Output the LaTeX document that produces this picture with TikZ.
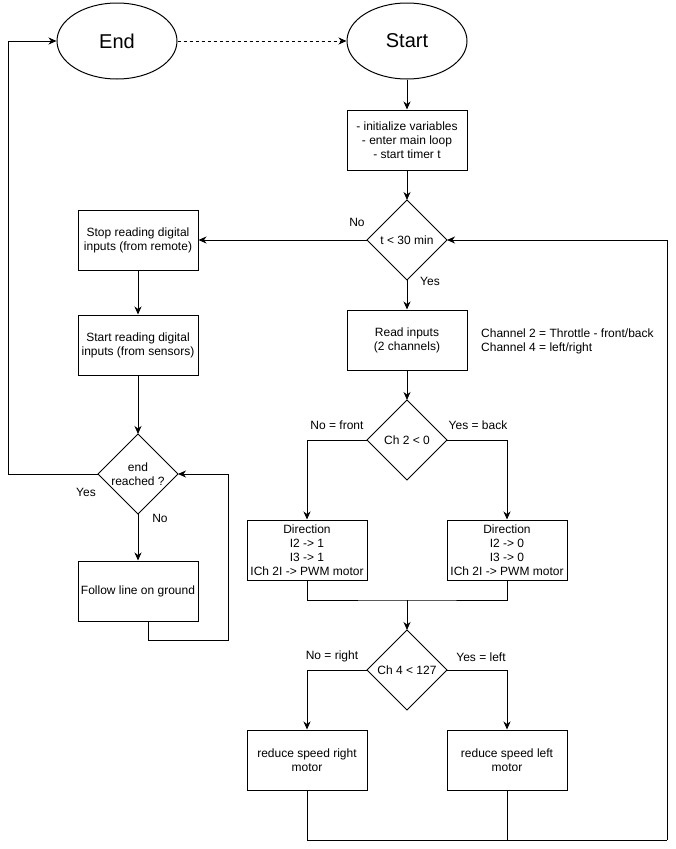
\documentclass[tikz,border=0pt]{standalone}
\usepackage{fontspec}
\setmainfont{Liberation Sans}
\usetikzlibrary{shapes.geometric,arrows.meta}

\tikzset{FCbox/.style={rectangle,draw,line width=1pt,minimum width=120pt,minimum height=60pt,inner sep=0pt,align=center,font=\fontsize{12}{14}\selectfont},
         FCdec/.style={diamond,draw,line width=1pt,minimum width=80pt,minimum height=80pt,inner sep=0pt,outer sep=0pt,aspect=1,align=center,font=\fontsize{12}{14}\selectfont},
         FCterm/.style={ellipse,draw,line width=1pt,minimum width=120pt,minimum height=76pt,font=\fontsize{20}{24}\selectfont},
         FClab/.style={inner sep=0pt,font=\fontsize{12}{14}\selectfont},
         FCarr/.style={line width=1pt,-{Stealth[length=8pt,width=7pt,inset=2.5pt]}},
         FCline/.style={line width=1pt}}

\begin{document}
\begin{tikzpicture}[x=1pt,y=-1pt]
    \useasboundingbox (0,0) rectangle (676,849);
    \node[FCterm] (end) at (117,41) {End};
    \node[FCterm] (start) at (407,41) {Start};
    \foreach \x/\y/\n/\l in {407/140/init/{- initialize variables\\- enter main loop\\- start timer t},
                             138/240/stop/{Stop reading digital\\inputs (from remote)},
                             138/345/sread/{Start reading digital\\inputs (from sensors)},
                             138/591/follow/{Follow line on ground},
                             407/340/read/{Read inputs\\(2 channels)},
                             307/550/dirl/{Direction\\I2 -> 1\\I3 -> 1\\ICh 2I -> PWM motor},
                             507/550/dirr/{Direction\\I2 -> 0\\I3 -> 0\\ICh 2I -> PWM motor},
                             307/760/redl/{reduce speed right\\motor},
                             507/760/redr/{reduce speed left\\motor}}
      {\node[FCbox] (\n) at (\x,\y) {\l};}
    \node[FCdec] (timer) at (407,240) {t < 30 min};
    \node[FCdec] (endq) at (138,474) {end\\reached ?};
    \node[FCdec] (ch2) at (407,440) {Ch 2 < 0};
    \node[FCdec] (ch4) at (407,670) {Ch 4 < 127};
    % labels
    \node[FClab] at (357,222) {No};
    \node[FClab] at (430,281) {Yes};
    \node[FClab] at (86,492) {Yes};
    \node[FClab] at (160,518) {No};
    \node[FClab] at (337,425) {No = front};
    \node[FClab] at (478,425) {Yes = back};
    \node[FClab] at (332,656) {No = right};
    \node[FClab] at (481,657) {Yes = left};
    \node[FClab,anchor=west,align=left] (chan) at (481,341) {Channel 2 = Throttle - front/back\\Channel 4 = left/right};
    % bend points
    \coordinate (lft) at (8,474);
    \coordinate (flb) at (228,640);
    \coordinate (m1) at (407,600);
    \coordinate (m2) at (667,840);
    % connectors
    \draw[FCarr,dash pattern=on 3pt off 3pt] (end) -- (start);
    \draw[FCarr] (start) -- (init);
    \draw[FCarr] (init) -- (timer);
    \draw[FCarr] (timer) -- (stop);
    \draw[FCarr] (timer) -- (read);
    \draw[FCarr] (stop) -- (sread);
    \draw[FCarr] (sread) -- (endq);
    \draw[FCarr] (endq.west) -- (lft) |- (end.west);
    \draw[FCarr] (endq) -- (follow);
    \draw[FCarr] ([xshift=10pt]follow.south) |- (flb) |- (endq.east);
    \draw[FCarr] (read) -- (ch2);
    \draw[FCarr] (ch2.west) -| (dirl);
    \draw[FCarr] (ch2.east) -| (dirr);
    \draw[FCline] (dirl.south) |- (m1) -| (dirr.south);
    \draw[FCarr] (m1) -- (ch4);
    \draw[FCarr] (ch4.west) -| (redl);
    \draw[FCarr] (ch4.east) -| (redr);
    \draw[FCline] (redl.south) |- (m2);
    \draw[FCline] (redr.south) -- (redr.south |- m2);
    \draw[FCarr] (m2) |- (timer.east);
  \end{tikzpicture}
\end{document}
